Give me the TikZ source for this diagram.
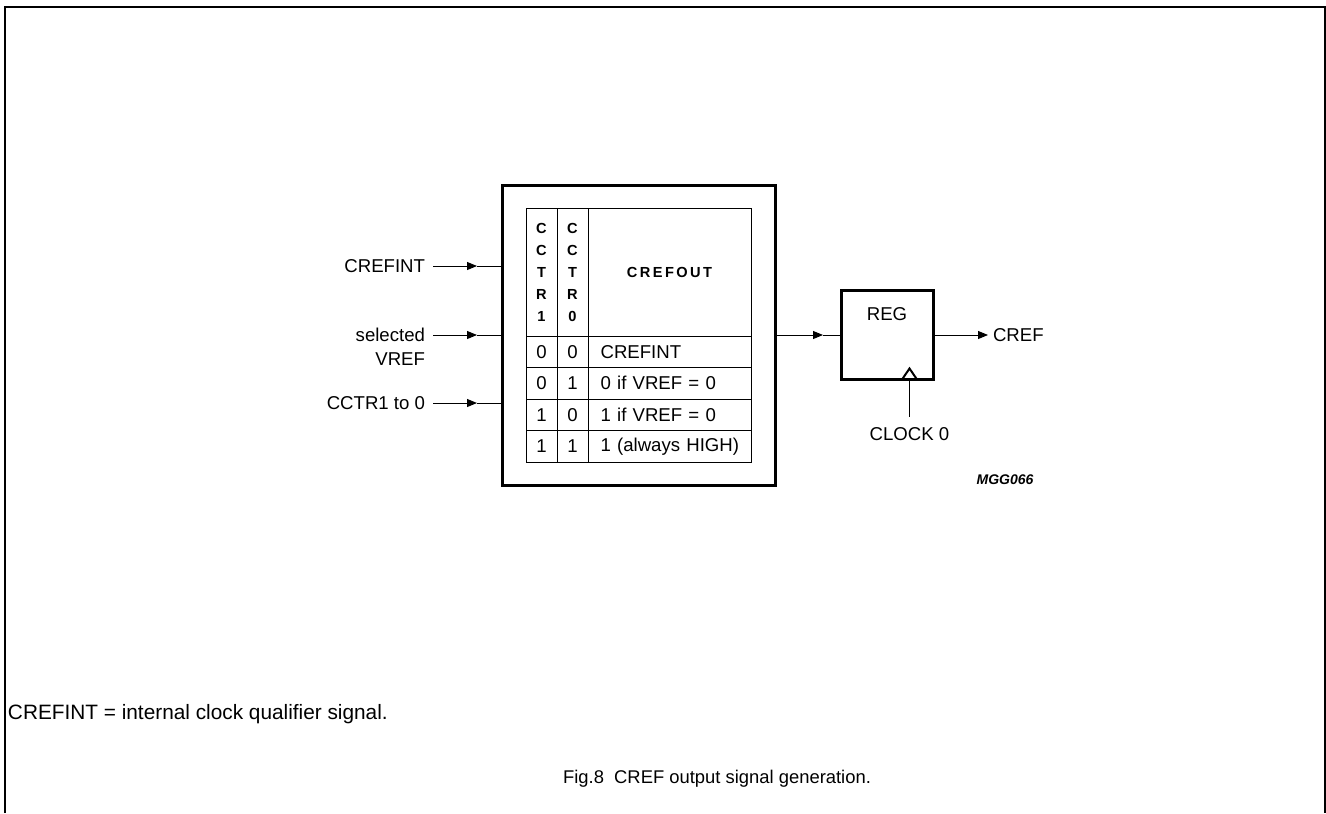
\documentclass[tikz,border=0pt]{standalone}
\usepackage{fontspec}
\setmainfont{Liberation Sans}
\usepackage{tikz}
\usetikzlibrary{positioning,calc,arrows.meta}
\newcommand{\hdrfont}{\fontsize{7.3}{11}\selectfont\bfseries}
\tikzset{
    sig/.style={-{Triangle[length=5pt,width=4pt]}, line width=0.5pt},
    cell/.style={draw, line width=0.5pt, minimum width=15.5pt, minimum height=15.75pt},
    wide/.style={minimum width=81.5pt, text width=72pt, inner xsep=4.75pt, align=left},
    block/.style={draw, line width=1.5pt}
}

\begin{document}
\begin{tikzpicture}[x=0.5pt, y=-0.5pt,
        every node/.style={font=\fontsize{9.3}{11.5}\selectfont, inner sep=0pt, outer sep=0pt}]
    \useasboundingbox (0,0) rectangle (1326,813);
    % page frame, open at the bottom
    \draw[line width=1pt] (5,813) -- (5,7) -- (1325,7) -- (1325,813);

    % control block with truth table
    \node[block, minimum width=136.5pt, minimum height=150pt] (logic) at (638.5,335) {};

    \node[cell, minimum height=64pt, anchor=north west, font=\hdrfont, align=center] (h1) at (526,208)
        {C\\C\\T\\R\\1};
    \node[cell, minimum height=64pt, font=\hdrfont, align=center, right=0pt of h1] (h2)
        {C\\C\\T\\R\\0};
    \node[cell, minimum width=81.5pt, minimum height=64pt, font=\hdrfont, right=0pt of h2] (h3)
        {C\,R\,E\,F\,O\,U\,T};

    \node[cell, below=0pt of h1] (r1a) {0};
    \node[cell, right=0pt of r1a] (r1b) {0};
    \node[cell, wide, right=0pt of r1b] (r1c) {\,CREFINT};
    \node[cell, below=0pt of r1a] (r2a) {0};
    \node[cell, right=0pt of r2a] (r2b) {1};
    \node[cell, wide, right=0pt of r2b] (r2c) {\,0 if VREF = 0};
    \node[cell, below=0pt of r2a] (r3a) {1};
    \node[cell, right=0pt of r3a] (r3b) {0};
    \node[cell, wide, right=0pt of r3b] (r3c) {\,1 if VREF = 0};
    \node[cell, below=0pt of r3a] (r4a) {1};
    \node[cell, right=0pt of r4a] (r4b) {1};
    \node[cell, wide, right=0pt of r4b] (r4c) {\,1 (always HIGH)};

    % inputs
    \node[anchor=east, inner xsep=4pt] (crefint) at (433,266) {CREFINT};
    \node[anchor=north east, inner xsep=4pt, align=right, font=\fontsize{9.3}{12}\selectfont] (selvref) at (433,328)
        {selected\\VREF};
    \node[anchor=east, inner xsep=4pt] (cctr) at (433,403) {CCTR1 to 0};

    \draw[sig] (crefint.east) -- ++(44,0) coordinate (tipa);
    \draw (tipa) -- (tipa -| logic.west);
    \draw[sig] (selvref.north east |- logic.west) -- ++(44,0) coordinate (tipb);
    \draw (tipb) -- (logic.west);
    \draw[sig] (cctr.east) -- ++(44,0) coordinate (tipc);
    \draw (tipc) -- (tipc -| logic.west);

    % register
    \node[block, minimum width=46pt, minimum height=44.5pt] (reg) at (887,335) {};
    \node[below=8.5pt of reg.north] (regname) {REG};
    \node[anchor=west, inner xsep=2.5pt] (cref) at (988,335) {CREF};

    \coordinate (tipr) at (823,335);
    \draw[sig] (logic.east) -- (tipr);
    \draw (tipr) -- (reg.west);
    \draw[sig] (reg.east) -- (cref.west);

    % clock input
    \coordinate (clkin) at ($(reg.south east)+(-23.5,0)$);
    \draw[line width=1pt] (clkin) ++(-7.5,0) -- ++(7.5,-11) -- ++(7.5,11);
    \node[inner ysep=5pt] (clk) at (909.5,434) {CLOCK 0};
    \draw (clkin) -- (clk.north);

    \node (code) at (1005,480) {\fontsize{7}{8}\selectfont\bfseries\itshape MGG066};

    % notes
    \node[anchor=base west, font=\fontsize{10.4}{12}\selectfont] (note) at (8,719)
        {CREFINT = internal clock qualifier signal.};
    \node[anchor=base, font=\fontsize{9.2}{11}\selectfont] (caption) at (717,783)
        {Fig.8~~CREF output signal generation.};
\end{tikzpicture}
\end{document}
